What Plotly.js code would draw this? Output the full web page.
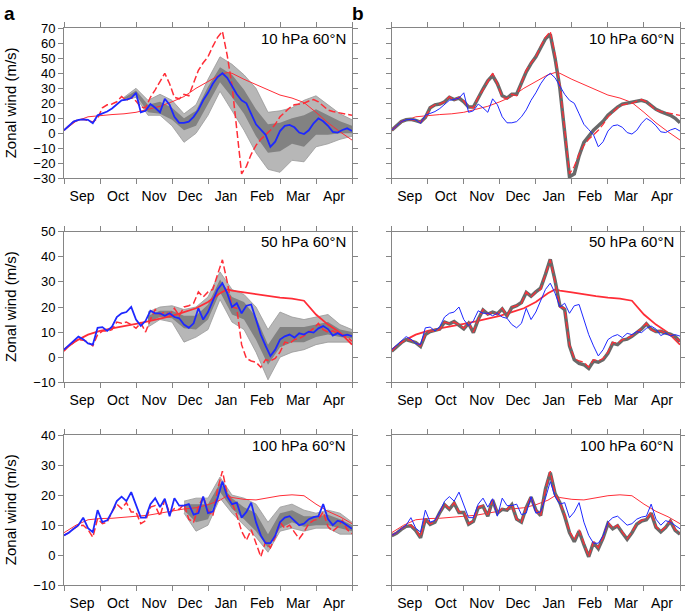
<!DOCTYPE html>
<html><head><meta charset="utf-8">
<script src="https://cdn.plot.ly/plotly-3.0.1.min.js"></script>
<style>html,body{margin:0;padding:0;background:#fff}</style>
</head><body><div id="chart" style="width:685px;height:614px"></div>
<script>
// ---- x grids (days since 1 Sep, 30-day months) ----
const days = [0,4,8,12,16,20,24,28,32,36,40,44,48,52,56,60,64,68,72,76,80,84,88,92,96,100,104,108,112,116,120,124,128,132,136,140,144,148,152,156,160,164,168,172,176,180,184,188,192,196,200,204,208,212,216,220,224,228,232,236,240];
const climDays = [0,10,20,30,40,50,60,70,80,90,100,110,120,130,136,140,150,160,170,180,190,200,210,220,230,240];
const months = ['Sep','Oct','Nov','Dec','Jan','Feb','Mar','Apr'];
const monthMid = [15,45,75,105,135,165,195,225];
const monthEdges = [0,30,60,90,120,150,180,210,240];

// ---- 10 hPa ----
const obs10 = [2,5,7.8,9,9.3,8.5,7.5,10,17,19,19.5,21,24.5,22,24,21.5,17.5,17,24,29,35,40,33,24,23,26,25,33,42,47,51,58,64,68,52,32,3,-27,-22,-14,-8,-4,-1,2,6,11,14,17,19,19.5,20,21.5,22.5,21,18,15.5,14.5,14,13.5,13,12];
const nudged10 = [2,5,7.8,9,9.3,8.5,7.5,10.5,17,19,19.5,21,24,22.5,23.5,21,17.5,17.5,24,29.5,35,38.5,33,25,23.5,26,26,33,41,46.5,51,57,63,66,50,30,3,-29,-27,-15,-6,-2,2,5,8,12,15,17.5,19.5,20,20.5,21.5,22,21,18.5,16,14.5,13.5,12,10,7];
const mean10 = [2,5,7.8,9,9.3,9,6.7,12,13.3,14.5,16.5,19,22,22.5,23.5,27,14,15,19.5,17,14,23,19,11,7,7,7.8,11,15.6,22,27,33,37.5,40,37,31.5,26,22,20,13,6,2.5,-1,-9,-5.6,1.5,5,5.6,4,0.5,-0.5,2,6.7,10,8,5,1,0.5,2.2,3.3,1.5];
const clim10 = [2,8,11,12,12.5,13,14,16,18,21,24.5,30,34.5,39,40.5,40,36,32.5,28.5,25.5,23.5,20.5,14,7,1,-4.5];
const band10Days = [50,60,70,80,90,100,110,120,130,140,150,160,170,180,190,200,210,220,230,240];
const ens10Max = [24,30,22,26,22,13,19,36,51,46,39,30,14,15,17,22,25,19,13,9];
const ens10Min = [22,24,12,12,5,-6,0,12,28,15,2,-13,-24,-26,-18,-19,-9,-7,-4,-2];
const ens10Hi = [23.5,28.5,19,21,17,10,15,31,44,39,29,16,6,7,10,12,16,12,8,5];
const ens10Lo = [22.5,25.5,14,13,9,2,5,20,34,24,13,-2,-13,-12,-7,-9,-1,-1,0,0];

// ---- 50 hPa ----
const obs50 = [2.4,4.5,5.8,7,6.8,6,4.5,9,10.4,10.4,11,14,13.5,14,13,11.5,13.7,10,15,19,17,18,17,19.5,16.5,20,20.5,21.5,26,24,26,27,33,38.8,30,20,19.5,5,-0.5,-1.5,-2,-4,-1,-1.5,-0.5,2,6,5.5,7,7.5,8.5,10,11.5,13.5,11,10,10.5,9.5,9,8,6.4];
const nudged50 = [2.4,4.3,5.8,7,6.5,5.8,4.3,9,10.2,10.6,11.2,14,13.3,14.2,12.8,11.3,13.5,9.8,15,18.8,17.2,18,17.3,19.2,16.5,19.8,20.5,21.8,25.8,24.3,26,27.5,33,39,30.5,20.5,19,4.5,-1,-2.5,-3,-4.5,-1.5,-2,-1,1.5,5.5,5,6.8,7.2,8.3,9.8,11.3,13.3,11.2,10.2,10.3,9.6,9.2,8.2,6.2];
const mean50 = [3,4.8,6.5,8.2,7.2,5.5,5,11.7,12,10.5,12.2,16,17.5,18,20,15,12.5,14.5,18.5,17.5,17.5,16.5,17.5,16,15.5,13,11.7,13.5,19.5,15,18,22.5,27,29.5,25.5,20,21.5,17.5,20.5,21,15,9,4.5,0.5,3,7,8.3,9,7.8,9.5,9,10.2,9.8,11.5,12.4,11.2,8.6,9.6,8.5,9,8.4];
const clim50 = [3,6.5,9,10.5,11.5,12.3,13.3,14.3,15.3,16.5,18,19.5,22,25.5,27,26.5,25.8,25,24.3,23.7,23.3,22.5,17,13,9.8,5];
const band50Days = [70,80,90,100,110,120,130,140,150,160,170,180,190,200,210,220,230,240];
const ens50Max = [18,20,20.5,19,20,24,34,27,25,20,11,18,16,15,16,17,13,11];
const ens50Min = [12,15,14,6,8,11,23,14,11,2,-9,0,2,3,5,6,6,6];
const ens50Hi = [16.5,18.5,18.5,16.5,16.5,21,31,24,22,16,5,12,12,12,13,14,11,10];
const ens50Lo = [14,16,15.5,11.5,11,15,26,17,15,7,-3,4,6,6,8,9,8,7.5];

// ---- 100 hPa ----
const obs100 = [6.6,7.5,8.8,9.8,10,8.5,6,12.2,10.5,11,14.4,17,15.5,17.5,14.4,14.4,10.5,11.5,16,16.5,13,18.5,14,15.5,15.2,17,12,11,16,19.5,15,13,22,28,20.5,17.5,13.3,8,5,8.5,4,-0.5,4.5,2.5,6,11,9,10,7.7,5.5,7.7,10.5,11.6,12,14.4,9.5,8,9.4,11.6,8.5,7.2];
const nudged100 = [6.5,7.3,8.6,9.6,9.8,8.2,5.8,12,10.3,11,14.2,16.8,15.3,17.3,14.2,14.2,10.3,11.3,15.8,16.3,13,18.3,14,15.3,15,16.8,12,11,15.8,19.3,15,13.2,22,27.5,20.5,17.5,13,7.5,4.5,8,3.5,-0.5,4.2,2.2,5.8,10.5,8.8,9.8,7.5,5.3,7.5,10.3,11.4,11.8,14,9.3,7.8,9.2,11.3,8.3,7];
const mean100 = [6.6,7.5,8.8,10,12.5,9,7.7,15,11,11.6,14.4,18,19.5,18,21,17,12.5,12.5,17,19,16,18.8,13,19,16.5,16.5,17,13.5,14,19.5,14,14.5,19,24.5,19.5,17,17.5,12.5,14.4,17.5,11,6.6,4,4,6.5,11,12.5,13,11.5,10,10.5,12,12.7,13,17,12,10,11.5,11,10,8.8];
const clim100 = [7.5,10,11.8,12.2,12.3,12.6,13,13.3,14,14.8,15.4,15.8,16.8,18.3,19.8,19.2,18.6,18.4,19,19.8,20.1,19.8,17,14.6,12.8,10.5];
const band100Days = [100,110,120,130,140,150,160,170,180,190,200,210,220,230,240];
const ens100Max = [18,19,19,26,20,19,17,11,16,17,15,14,15,14,11];
const ens100Min = [14,8,10,19,14,10,6,1,8,9,8,9,9,7,7];
const ens100Hi = [17,17,17,24,19,16,14,7,14,15,13,13,13.5,12,10];
const ens100Lo = [15,11,12,21,15.5,12,8,2.5,9,11,9.5,10,10,9,8];

const levels = ['10 hPa 60°N','50 hPa 60°N','100 hPa 60°N'];
const yRanges = [[-30,70],[-10,50],[-10,40]];

// ---- styling ----
const RED = 'rgb(255,45,55)', BLUE = 'rgb(30,40,255)', GREY = 'rgb(105,105,105)';
const FONT = 'Liberation Sans, Arial, sans-serif';
const AX = '#858585';

const rows = [
  {obs:obs10, nud:nudged10, mean:mean10, clim:clim10, bd:band10Days, mx:ens10Max, mn:ens10Min, hi:ens10Hi, lo:ens10Lo, climW:1},
  {obs:obs50, nud:nudged50, mean:mean50, clim:clim50, bd:band50Days, mx:ens50Max, mn:ens50Min, hi:ens50Hi, lo:ens50Lo, climW:1.8},
  {obs:obs100, nud:nudged100, mean:mean100, clim:clim100, bd:band100Days, mx:ens100Max, mn:ens100Min, hi:ens100Hi, lo:ens100Lo, climW:1}
];

const traces = [];
rows.forEach((r, i) => {
  const xa = 'x' + (2*i+1 === 1 ? '' : 2*i+1), ya = 'y' + (2*i+1 === 1 ? '' : 2*i+1);
  const xb = 'x' + (2*i+2), yb = 'y' + (2*i+2);
  const base = {type:'scatter', mode:'lines', hoverinfo:'skip', showlegend:false};
  // panel a: ensemble spread
  traces.push({...base, xaxis:xa, yaxis:ya, x:r.bd, y:r.mx, line:{color:'#999', width:0.8}});
  traces.push({...base, xaxis:xa, yaxis:ya, x:r.bd, y:r.mn, line:{color:'#999', width:0.8}, fill:'tonexty', fillcolor:'rgba(135,135,135,0.6)'});
  traces.push({...base, xaxis:xa, yaxis:ya, x:r.bd, y:r.hi, line:{color:'rgba(0,0,0,0)', width:0}});
  traces.push({...base, xaxis:xa, yaxis:ya, x:r.bd, y:r.lo, line:{color:'rgba(0,0,0,0)', width:0}, fill:'tonexty', fillcolor:'rgba(95,95,95,0.6)'});
  traces.push({...base, xaxis:xa, yaxis:ya, x:climDays, y:r.clim, line:{color:RED, width:r.climW}});
  traces.push({...base, xaxis:xa, yaxis:ya, x:days, y:r.obs, line:{color:RED, width:1.5, dash:'7px,3px'}});
  traces.push({...base, xaxis:xa, yaxis:ya, x:days, y:r.mean, line:{color:BLUE, width:1.8}});
  // panel b
  traces.push({...base, xaxis:xb, yaxis:yb, x:climDays, y:r.clim, line:{color:RED, width:r.climW}});
  traces.push({...base, xaxis:xb, yaxis:yb, x:days, y:r.nud, line:{color:GREY, width:3.5}});
  traces.push({...base, xaxis:xb, yaxis:yb, x:days, y:r.obs, line:{color:RED, width:1.3, dash:'7px,3px'}});
  traces.push({...base, xaxis:xb, yaxis:yb, x:days, y:r.mean, line:{color:BLUE, width:1}});
});

const W = 685, H = 614;
const colDom = [[64/W, 352/W], [391.7/W, 680/W]];
const rowPx = [[28.3,178.3],[231.7,382.3],[435,585.3]];
const rowDom = rowPx.map(p => [1 - p[1]/H, 1 - p[0]/H]);

const layout = {
  width:W, height:H, margin:{l:0,r:0,t:0,b:0},
  paper_bgcolor:'#fff', plot_bgcolor:'#fff',
  font:{family:FONT, size:14, color:'#000'},
  annotations:[]
};
for (let i = 0; i < 3; i++) {
  for (let j = 0; j < 2; j++) {
    const n = 2*i + j + 1;
    const key = n === 1 ? '' : n;
    layout['xaxis' + key] = {
      domain: colDom[j], anchor: 'y' + key, range:[0,240],
      tickmode:'array', tickvals:monthMid, ticktext:months, ticks:'',
      ticklabelstandoff:5,
      showline:true, linecolor:AX, linewidth:1, mirror:'ticks',
      showgrid:false, zeroline:false,
      tickfont:{family:FONT, size:14, color:'#000'},
      minor:{tickmode:'array', tickvals:monthEdges, ticks:'outside', ticklen:5, tickcolor:AX, tickwidth:1, showgrid:false}
    };
    layout['yaxis' + key] = {
      domain: rowDom[i], anchor: 'x' + key, range:yRanges[i],
      tickmode:'linear', tick0:0, dtick:10,
      ticks:'outside', ticklen:5, tickcolor:AX, tickwidth:1,
      showline:true, linecolor:AX, linewidth:1, mirror:'ticks',
      showgrid:false, zeroline:false, showticklabels: j === 0,
      tickfont:{family:FONT, size:13, color:'#000'}
    };
    layout.annotations.push({
      xref:'paper', yref:'paper', x: colDom[j][1] - 4/W, y: 1 - (rowPx[i][0] + 10)/H,
      xanchor:'right', yanchor:'middle', showarrow:false,
      text: levels[i], font:{family:FONT, size:15, color:'#000'}
    });
  }
  layout.annotations.push({
    xref:'paper', yref:'paper', x: 10/W, y: 1 - (rowPx[i][0] + rowPx[i][1])/2/H,
    xanchor:'center', yanchor:'middle', textangle:-90, showarrow:false,
    text:'Zonal wind (m/s)', font:{family:FONT, size:15, color:'#000'}
  });
}
layout.annotations.push({xref:'paper', yref:'paper', x:2/W, y:1-1/H, xanchor:'left', yanchor:'top', showarrow:false, text:'<b>a</b>', font:{family:FONT, size:19, color:'#000'}});
layout.annotations.push({xref:'paper', yref:'paper', x:350/W, y:1-1/H, xanchor:'left', yanchor:'top', showarrow:false, text:'<b>b</b>', font:{family:FONT, size:19, color:'#000'}});

Plotly.newPlot('chart', traces, layout, {staticPlot:true, displayModeBar:false});
</script></body></html>
